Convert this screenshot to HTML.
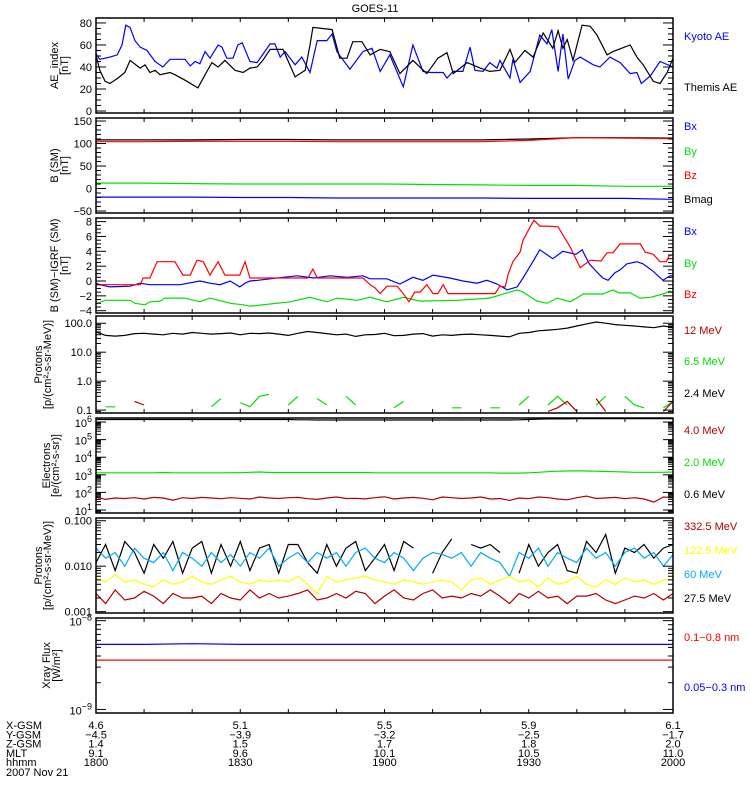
<!DOCTYPE html>
<html><head><meta charset="utf-8">
<style>
html,body{margin:0;padding:0;background:#fff;}
svg{display:block;font-family:"Liberation Sans",sans-serif;}
text{font-size:11px;}
</style></head>
<body>
<svg id="chart" width="750" height="800" viewBox="0 0 750 800" xmlns="http://www.w3.org/2000/svg">
<rect x="0" y="0" width="750" height="800" fill="#fff"/>
<text x="375" y="12" text-anchor="middle" font-size="12">GOES-11</text>
<g id="plots"></g>
<g id="footer"></g>
</svg>
<script>
// ---------- DATA ----------
const aeKyotoT=[0,0.8,2.9,4.4,5.4,6.2,7.1,8.1,9.2,10.6,12.3,13.9,15.4,18.5,19.6,20.6,21.6,22.7,23.7,25.4,26.2,27.2,28.5,29.5,30.4,32.0,33.5,36.2,37.2,38.3,39.3,41.4,42.8,44.5,46.0,48.0,49.1,50.1,52.8,55.5,57.4,59.1,61.1,63.9,65.9,68.0,69.5,72.2,73.0,74.3,76.3,77.8,78.8,80.5,81.9,83.4,84.0,86.1,86.7,88.2,90.3,92.3,93.8,94.8,96.1,97.1,98.2,99.6,100.7,103.4,104.8,106.9,109.0,111.1,112.5,113.4,115.3,117.3,120];
const aeKyotoV=[52,47,49,51,60,78,76,64,58,55,45,40,47,47,41,45,43,54,48,60,58,48,48,60,62,45,44,61,61,49,54,42,49,35,64,64,70,54,38,54,57,36,51,22,60,36,35,35,30,36,36,58,37,36,44,39,46,30,47,26,36,69,61,74,36,70,29,46,49,42,40,49,44,34,35,25,32,45,40];
const aeThemisT=[0,0.8,1.9,2.9,4.6,6.0,7.1,9.2,10.2,11.2,12.3,13.3,15.4,16.4,18.5,21.2,22.7,24.1,25.4,26.8,28.9,30.6,32.0,33.5,34.7,36.2,38.9,41.4,43.5,44.5,45.1,49.1,50.7,52.2,53.4,55.3,57.0,59.1,61.1,63.2,65.9,68.8,71.1,73.0,74.3,77.2,79.9,81.9,84.0,86.1,87.1,89.2,90.9,93.0,95.0,96.1,97.1,98.0,99.2,101.1,102.8,104.2,106.3,107.5,111.1,112.5,113.8,115.9,117.3,118.8,120];
const aeThemisV=[51,37,27,25,30,35,46,39,42,35,37,33,35,33,28,21,33,44,40,46,37,35,39,40,46,56,56,31,37,60,76,74,48,48,63,63,51,56,54,34,46,34,48,53,34,44,39,36,37,56,44,55,49,71,57,73,57,65,46,78,77,69,51,54,60,49,42,27,25,35,48];
const bT=[0,10,20,30,40,50,60,70,80,90,100,110,120];
const bmagV=[108,108,108,109,109,108,108,108,108,110,113,113,112];
const bzV=[104,104,105,105,105,104,104,104,104,107,113,112,111];
const byV=[12,12,11,10,10,10,10,9,8,7,7,5,5];
const bxV=[-19,-19,-19,-20,-20,-21,-21,-21,-21,-22,-22,-22,-24];
const dBzT=[0,9.2,9.8,11.2,12.7,16.4,18.1,19.6,21.0,22.3,23.7,25.4,26.8,29.9,31.0,32.0,44.1,45.1,46.0,55.5,57.0,58.0,59.1,60.5,62.6,63.9,65.1,66.3,67.4,68.8,70.1,71.1,72.2,73.2,74.3,83.0,84.0,85.1,85.7,86.7,88.2,88.8,90.3,91.1,92.3,93.8,96.1,98.6,100.7,102.8,105.0,106.3,107.5,109.0,113.2,114.2,115.9,117.3,118.6,119.2,120];
const dBzV=[-0.5,-0.5,0.4,0.4,2.6,2.6,0.8,0.8,2.8,2.6,0.8,2.6,0.8,0.8,2.6,0.4,0.4,1.6,0.4,0.4,-0.5,-0.9,-1.7,-0.7,-0.7,-1.7,-2.8,-1.5,-1.5,-0.5,-1.7,-1.7,-0.5,-1.7,-1.7,-1.7,-0.7,-0.8,0.9,2.6,3.9,5.5,7.3,8.2,7.4,7.4,7.3,4.6,1.8,2.8,2.7,3.8,3.8,5.0,5.0,3.9,3.6,2.6,2.6,3.4,3.6];
const dBxT=[0,0.8,2.9,7.1,9.2,11.2,17.5,21.6,23.7,25.8,27.9,29.9,31.0,32.0,33.6,38.9,41.8,45.3,48.7,52.2,55.5,57.0,60.5,63.2,65.9,68.0,70.1,73.6,76.3,79.2,81.3,83.4,85.5,87.6,88.8,90.3,92.3,95.0,97.1,99.8,101.1,102.6,104.2,105.4,106.5,107.9,109.0,110.4,112.5,113.8,115.9,117.9,119.4,120];
const dBxV=[-0.3,-0.5,-0.8,-0.7,-0.3,-0.5,-0.5,0,-0.3,-0.5,0,-0.8,-0.3,0,0.1,0.5,0.7,0.4,0.7,0.5,0.7,0.3,0.3,-0.4,0.5,0.1,0.8,0.4,0,-0.3,0.1,-0.4,-1.2,-0.8,0.4,2.0,4.2,3.0,4.0,3.6,4.2,2.3,1.2,0.4,0.1,1.1,1.5,2.3,2.6,2.3,1.3,0.1,0.7,0.7];
const dByT=[0,1.9,7.1,8.1,10.2,11.2,13.3,14.3,18.5,21.6,23.7,27.9,30.6,32.0,40.4,44.5,48.0,50.1,54.3,57.0,60.5,63.9,67.4,75.1,81.9,84.0,87.6,88.8,91.7,93.8,95.9,98.6,100.0,101.3,105.4,107.5,108.8,111.1,113.1,115.3,117.9,119.4,120];
const dByV=[-3.1,-2.6,-2.6,-3.0,-3.2,-2.8,-2.7,-2.3,-2.3,-2.8,-2.3,-3.0,-3.2,-3.4,-2.8,-2.2,-2.8,-2.3,-2.6,-2.2,-2.8,-2.2,-2.7,-2.6,-2.3,-1.9,-1.2,-1.5,-2.7,-3.0,-2.3,-2.8,-2.3,-1.75,-1.75,-1.2,-1.6,-1.6,-2.3,-2.2,-1.75,-1.35,-1.6];
const p12MeV=[null,null,null,null,0.2,0.15,null,null,null,null,null,null,null,null,null,null,null,null,null,null,null,null,null,null,null,null,null,null,null,null,null,null,null,null,null,null,null,null,null,null,null,null,null,null,null,null,null,0.09,0.12,0.2,0.09,null,0.25,0.09,null,null,null,null,null,0.09,0.2];
const p6MeV=[null,0.13,0.13,null,null,null,null,null,null,null,null,null,0.13,0.25,null,0.18,0.13,0.3,0.35,null,0.15,0.3,null,0.25,0.15,null,0.3,0.15,null,null,null,0.12,0.2,null,null,null,null,0.12,0.12,null,null,0.12,0.12,null,0.15,0.3,null,0.15,0.3,0.15,null,null,0.15,0.3,null,0.3,0.15,0.12,null,0.12,0.2];
const p2MeV=[50,38,36,38,44,45,42,40,45,42,48,45,42,44,46,40,45,44,46,42,38,45,52,48,44,40,42,35,40,41,45,37,38,42,44,36,40,38,41,42,40,38,36,34,45,48,55,58,62,68,80,95,110,100,90,85,80,75,70,80,72];
const e4MeV=[55,40,48,45,50,42,52,48,36,50,45,52,48,44,50,46,42,55,48,45,50,52,44,40,48,55,45,46,43,50,56,42,48,52,46,38,55,50,45,48,55,42,45,35,48,44,55,50,42,38,50,62,45,48,52,44,50,42,28,55,50];
const e2MeV=[1300,1300,1300,1300,1300,1300,1300,1350,1300,1300,1300,1300,1300,1300,1320,1320,1400,1450,1350,1350,1350,1350,1350,1350,1350,1350,1350,1350,1350,1300,1300,1300,1300,1300,1300,1300,1300,1300,1300,1300,1300,1300,1250,1250,1250,1300,1400,1500,1600,1650,1700,1650,1600,1550,1500,1450,1400,1400,1400,1400,1450];
const e06MeV=[1.4e6,1.4e6,1.4e6,1.4e6,1.4e6,1.4e6,1.4e6,1.4e6,1.4e6,1.4e6,1.4e6,1.4e6,1.4e6,1.4e6,1.4e6,1.4e6,1.4e6,1.4e6,1.4e6,1.4e6,1.4e6,1.35e6,1.35e6,1.3e6,1.3e6,1.3e6,1.3e6,1.3e6,1.3e6,1.3e6,1.3e6,1.3e6,1.3e6,1.3e6,1.3e6,1.3e6,1.3e6,1.3e6,1.3e6,1.3e6,1.3e6,1.3e6,1.3e6,1.3e6,1.35e6,1.4e6,1.45e6,1.5e6,1.5e6,1.5e6,1.55e6,1.55e6,1.55e6,1.55e6,1.55e6,1.55e6,1.55e6,1.55e6,1.55e6,1.55e6,1.55e6];
const hp27=[0.012,0.03,0.008,0.035,0.02,0.007,0.03,0.015,0.035,0.007,0.025,0.035,0.007,0.03,0.01,0.035,0.008,0.025,0.03,0.007,0.03,0.03,0.012,0.007,0.03,0.01,0.025,0.035,0.008,0.015,0.03,0.008,0.035,0.025,null,0.007,0.02,0.04,null,0.03,0.025,0.03,0.02,null,0.007,0.03,0.01,0.02,0.03,0.008,0.007,0.035,0.02,0.05,0.007,0.025,0.02,0.03,0.015,0.025,0.03];
const hp60=[0.025,0.015,0.02,0.01,0.025,0.015,0.012,0.02,0.008,0.02,0.015,0.01,0.02,0.012,0.018,0.01,0.02,0.015,0.025,0.01,0.015,0.02,0.012,0.02,0.015,0.02,0.01,0.02,0.025,0.015,0.012,0.02,0.015,0.008,0.015,0.02,0.018,0.015,0.02,0.01,0.02,0.015,0.012,0.006,0.02,0.015,0.025,0.01,0.02,0.015,0.012,0.025,0.015,0.02,0.01,0.02,0.025,0.015,0.02,0.01,0.018];
const hp122=[0.0055,0.0045,0.0065,0.0045,0.005,0.004,0.0035,0.005,0.004,0.0045,0.006,0.0045,0.004,0.005,0.006,0.0045,0.004,0.005,0.0045,0.005,0.0045,0.006,0.004,0.0025,0.006,0.0045,0.005,0.0055,0.006,0.005,0.0045,0.004,0.005,0.0045,0.004,0.0045,0.005,0.0045,0.003,0.005,0.0055,0.004,0.005,0.006,0.0045,0.005,0.0035,0.0055,0.004,0.0045,0.006,0.004,0.0035,0.005,0.004,0.0055,0.0045,0.005,0.004,0.005,0.005];
const hp332=[0.0025,0.0015,0.003,0.0018,0.002,0.0028,0.0022,0.0015,0.0025,0.002,0.002,0.0022,0.0015,0.0025,0.002,0.0018,0.003,0.002,0.0025,0.002,0.0022,0.0025,0.003,0.0018,0.002,0.0025,0.002,0.0028,0.0025,0.0015,0.0022,0.003,0.002,0.0018,0.0025,0.003,0.002,0.0022,0.002,0.0025,0.0022,0.003,0.0022,0.0015,0.0025,0.002,0.0028,0.002,0.0022,0.0015,0.0022,0.0022,0.0025,0.0018,0.0015,0.0018,0.0022,0.002,0.0025,0.0018,0.0025];
const xrayLong=[5.4e-9,5.4e-9,5.5e-9,5.4e-9,5.4e-9,5.4e-9,5.4e-9,5.4e-9,5.4e-9,5.4e-9,5.4e-9,5.4e-9,5.4e-9];
const xrayShort=[3.6e-9,3.6e-9,3.6e-9,3.6e-9,3.6e-9,3.6e-9,3.6e-9,3.6e-9,3.6e-9,3.6e-9,3.6e-9,3.6e-9,3.6e-9];
const footRows=["X-GSM","Y-GSM","Z-GSM","MLT","hhmm"];
const footVals=[["4.6","5.1","5.5","5.9","6.1"],["-4.5","-3.9","-3.2","-2.5","-1.7"],["1.4","1.5","1.7","1.8","2.0"],["9.1","9.6","10.1","10.5","11.0"],["1800","1830","1900","1930","2000"]];
const footTimes=[0,30,60,90,120];

// ---------- RENDER ----------
const NS="http://www.w3.org/2000/svg";
const X0=96,X1=673,TMAX=120;
const xs=t=>X0+t/TMAX*(X1-X0);
const plots=document.getElementById('plots');
function el(tag,attrs,parent){const e=document.createElementNS(NS,tag);for(const k in attrs)e.setAttribute(k,attrs[k]);(parent||plots).appendChild(e);return e;}
function seq(n,step){const a=[];for(let i=0;i<n;i++)a.push(i*step);return a;}
const t2=seq(61,2), t10=seq(13,10);

const panels=[
 {name:'ae-panel',top:18,bot:113,min:-1.8,max:84.5,log:false,tx:[58,68]},
 {name:'bsm-panel',top:118,bot:213,min:-54.4,max:156.7,log:false,tx:[58,68]},
 {name:'dbsm-panel',top:218,bot:313,min:-4.31,max:8.49,log:false,tx:[58,68]},
 {name:'hiproton-panel',top:316,bot:413,min:-1.10,max:2.25,log:true,tx:[42,51]},
 {name:'electron-panel',top:418,bot:513,min:0.83,max:6.23,log:true,tx:[50,59]},
 {name:'proton-panel',top:518,bot:613,min:-3.03,max:-0.94,log:true,tx:[42,51]},
 {name:'xray-panel',top:618,bot:713,min:-9.04,max:-7.97,log:true,tx:[50,60]}
];
panels.forEach(p=>{p.ys=v=>{const u=p.log?Math.log10(v):v;return p.bot-(u-p.min)/(p.max-p.min)*(p.bot-p.top);};});

function series(pi,ts,vs,color,name){
  const p=panels[pi];
  const g=el('g',{'clip-path':'url(#clip'+pi+')'});
  
  
  let d='',pen=false;
  for(let i=0;i<ts.length;i++){
    const v=vs[i];
    if(v===null||v===undefined||(p.log&&v<=0)){pen=false;continue;}
    d+=(pen?'L':'M')+xs(ts[i]).toFixed(1)+' '+p.ys(v).toFixed(1);
    pen=true;
  }
  const path=el('path',{d:d,fill:'none',stroke:color,'stroke-width':1.2},g);
  
  
}

const defs=el('defs',{});
panels.forEach((p,i)=>{const c=el('clipPath',{id:'clip'+i},defs);el('rect',{x:X0,y:p.top,width:X1-X0,height:p.bot-p.top},c);});

function frame(pi){
  const p=panels[pi];
  const g=el('g',{});
  
  
  for(let t=10;t<TMAX;t+=10){
    const x=xs(t);
    el('line',{x1:x,y1:p.bot,x2:x,y2:p.bot-4,stroke:'#000'},g);
    el('line',{x1:x,y1:p.top,x2:x,y2:p.top+4,stroke:'#000'},g);
  }
  return g;
}
function yTick(g,p,y,len){
  el('line',{x1:X0,y1:y,x2:X0+len,y2:y,stroke:'#000'},g);
  el('line',{x1:X1,y1:y,x2:X1-len,y2:y,stroke:'#000'},g);
}
function linAxis(pi,majors,minorStep){
  const p=panels[pi];const g=frame(pi);
  for(let v=Math.ceil(p.min/minorStep)*minorStep;v<=p.max;v+=minorStep){
    const isMaj=majors.some(m=>Math.abs(m-v)<1e-6);
    yTick(g,p,p.ys(v),isMaj?10:5);
  }
  majors.forEach(m=>{
    const t=el('text',{x:X0-4,y:p.ys(m)+4,'text-anchor':'end','font-size':'12'},g);
    t.textContent=String(m).replace('-','\u2212');
    
    
  });
  drawBox(p);
}
function logAxis(pi,labelFn){
  const p=panels[pi];const g=frame(pi);
  for(let d=Math.floor(p.min);d<=Math.ceil(p.max);d++){
    for(let k=1;k<10;k++){
      const lv=d+Math.log10(k);
      if(lv<p.min-1e-9||lv>p.max+1e-9)continue;
      yTick(g,p,p.ys(Math.pow(10,lv)),k===1?10:5);
    }
    if(d>=p.min-0.05&&d<=p.max+0.05){
      const y=p.bot-(d-p.min)/(p.max-p.min)*(p.bot-p.top);
      labelFn(g,d,y);
    }
  }
  drawBox(p);
}
function drawBox(p){
  const r=el('rect',{x:X0,y:p.top,width:X1-X0,height:p.bot-p.top,fill:'none',stroke:'#000','stroke-width':1.5});
  
  
}
function decLabel(fmt){return (g,d,y)=>{const t=el('text',{x:X0-4,y:y+4,'text-anchor':'end','font-size':'12'},g);t.textContent=fmt(d);};}
function powLabel(g,d,y){
  const t=el('text',{x:X0-4,y:y+5,'text-anchor':'end','font-size':'12'},g);
  
  
  const a=el('tspan',{},t);a.textContent='10';
  const b=el('tspan',{dy:-5,'font-size':'9'},t);b.textContent=String(d).replace('-','\u2212');
}

series(0,aeKyotoT,aeKyotoV,'#0000ff','kyoto-ae-series');
series(0,aeThemisT,aeThemisV,'#000000','themis-ae-series');
linAxis(0,[0,20,40,60,80],5);

series(1,bT,bxV,'#0000ff','bx-series');
series(1,bT,byV,'#00e000','by-series');
series(1,bT,bmagV,'#000000','bmag-series');
series(1,bT,bzV,'#ff0000','bz-series');
linAxis(1,[-50,0,50,100,150],10);

series(2,dBxT,dBxV,'#0000ff','dbx-series');
series(2,dByT,dByV,'#00e000','dby-series');
series(2,dBzT,dBzV,'#ff0000','dbz-series');
linAxis(2,[-4,-2,0,2,4,6,8],0.5);

series(3,t2,p2MeV,'#000000','proton-2.4mev-series');
series(3,t2,p6MeV,'#00e000','proton-6.5mev-series');
series(3,t2,p12MeV,'#b00000','proton-12mev-series');
logAxis(3,decLabel(d=>({'-1':'0.1','0':'1.0','1':'10.0','2':'100.0'})[d]||''));

series(4,t2,e06MeV,'#000000','electron-0.6mev-series');
series(4,t2,e2MeV,'#00e000','electron-2.0mev-series');
series(4,t2,e4MeV,'#b00000','electron-4.0mev-series');
logAxis(4,powLabel);

series(5,t2,hp27,'#000000','proton-27.5mev-series');
series(5,t2,hp60,'#00aaff','proton-60mev-series');
series(5,t2,hp122,'#ffff00','proton-122.5mev-series');
series(5,t2,hp332,'#b00000','proton-332.5mev-series');
logAxis(5,decLabel(d=>({'-3':'0.001','-2':'0.010','-1':'0.100'})[d]||''));

series(6,t10,xrayLong,'#0000ff','xray-long-series');
series(6,t10,xrayShort,'#ff0000','xray-short-series');
logAxis(6,powLabel);

const yTitles=[
 [0,'AE_index','[nT]'],[1,'B (SM)','[nT]'],[2,'B (SM)\u2212IGRF (SM)','[nT]'],
 [3,'Protons','[p/(cm\u00b2-s-sr-MeV)]'],[4,'Electrons','[e/(cm\u00b2-s-sr)]'],
 [5,'Protons','[p/(cm\u00b2-s-sr-MeV)]'],[6,'Xray Flux','[W/m\u00b2]']];
yTitles.forEach(([pi,l1,l2])=>{
  const p=panels[pi];const cy=(p.top+p.bot)/2;
  const g=el('g',{transform:`translate(0,${cy}) rotate(-90)`});
  
  
  const a=el('text',{x:0,y:p.tx[0],'text-anchor':'middle','font-size':'11'},g);a.textContent=l1;
  const b=el('text',{x:0,y:p.tx[1],'text-anchor':'middle','font-size':'11'},g);b.textContent=l2;
});

const legends=[
 ['Kyoto AE','#0000ff',40],['Themis AE','#000',91],
 ['Bx','#0000ff',130],['By','#00e000',155],['Bz','#ff0000',179],['Bmag','#000',203],
 ['Bx','#0000ff',235],['By','#00e000',267],['Bz','#ff0000',298],
 ['12 MeV','#b00000',334],['6.5 MeV','#00e000',365],['2.4 MeV','#000',397],
 ['4.0 MeV','#b00000',434],['2.0 MeV','#00e000',466],['0.6 MeV','#000',498],
 ['332.5 MeV','#b00000',530],['122.5 MeV','#ffff00',554],['60 MeV','#00aaff',578],['27.5 MeV','#000',602],
 ['0.1\u22120.8 nm','#ff0000',641],['0.05\u22120.3 nm','#0000ff',691]];
legends.forEach(([txt,c,y])=>{
  const t=el('text',{x:684,y:y,fill:c,'font-size':'11'});
  t.textContent=txt;
  
  
});

const foot=document.getElementById('footer');
footRows.forEach((r,i)=>{
  const y=729+i*9.3;
  const t=el('text',{x:6,y:y,'font-size':'11'},foot);t.textContent=r;
  
  
  footVals[i].forEach((v,j)=>{
    const u=el('text',{x:xs(footTimes[j]),y:y,'text-anchor':'middle','font-size':'11'},foot);
    u.textContent=v.replace('-','\u2212');
    
    
  });
});
const dt=el('text',{x:6,y:776,'font-size':'11'},foot);dt.textContent='2007 Nov 21';


</script>
</body></html>
